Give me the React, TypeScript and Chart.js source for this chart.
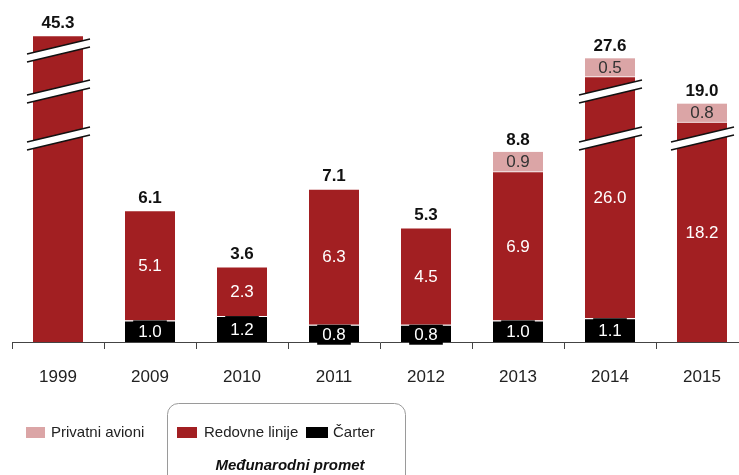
import React, { useEffect, useRef } from "react";
import { Chart, registerables } from "chart.js";

Chart.register(...registerables);

// ---- data ----
const years = ["1999", "2009", "2010", "2011", "2012", "2013", "2014", "2015"];
const charter = [0, 1.0, 1.2, 0.8, 0.8, 1.0, 1.1, 0];
const scheduled = [45.3, 5.1, 2.3, 6.3, 4.5, 6.9, 26.0, 18.2];
// height actually drawn for bars cut by the axis break (null = drawn at full value)
const scheduledShown = [14.2, null, null, null, null, null, 11.2, 10.2];
const privateJets = [0, 0, 0, 0, 0, 0.9, 0.5, 0.8];
const totals = [45.3, 6.1, 3.6, 7.1, 5.3, 8.8, 27.6, 19.0];
const showScheduledLabel = [false, true, true, true, true, true, true, true];
// axis-break marks: how many per bar, and at which (drawn) levels
const breakCount = [3, 0, 0, 0, 0, 0, 2, 1];
const breakLevels = [9.42, 11.6, 13.5];

const RED = "#a21f22";
const PINK = "#dba5a6";
const BLACK = "#000000";
const FONT = "'Liberation Sans', Arial, sans-serif";

const fmt = (v: number) => v.toFixed(1);

const overlayPlugin = {
  id: "overlay",
  afterDatasetsDraw(chart: any) {
    const ctx = chart.ctx;
    const yScale = chart.scales.y;
    const mC = chart.getDatasetMeta(0);
    const mR = chart.getDatasetMeta(1);
    const mP = chart.getDatasetMeta(2);
    ctx.save();

    // break marks
    years.forEach((_, i) => {
      const bar = mR.data[i];
      const left = bar.x - bar.width / 2;
      const right = bar.x + bar.width / 2;
      for (let k = 0; k < breakCount[i]; k++) {
        const c = yScale.getPixelForValue(breakLevels[k]);
        const xl = left - 6;
        const xr = right + 7;
        ctx.beginPath();
        ctx.moveTo(xl, c + 7.5 - 4);
        ctx.lineTo(xr, c - 7.5 - 4);
        ctx.lineTo(xr, c - 7.5 + 4);
        ctx.lineTo(xl, c + 7.5 + 4);
        ctx.closePath();
        ctx.fillStyle = "#ffffff";
        ctx.fill();
        ctx.strokeStyle = "#111";
        ctx.lineWidth = 1.5;
        ctx.beginPath();
        ctx.moveTo(xl, c + 7.5 - 4);
        ctx.lineTo(xr, c - 7.5 - 4);
        ctx.moveTo(xl, c + 7.5 + 4);
        ctx.lineTo(xr, c - 7.5 + 4);
        ctx.stroke();
      }
    });

    ctx.textAlign = "center";
    ctx.textBaseline = "middle";

    years.forEach((_, i) => {
      let top = mR.data[i].y;
      // charter labels (box anchored at segment top)
      if (charter[i] > 0) {
        const b = mC.data[i];
        const h = Math.max(b.base - b.y, 20);
        ctx.font = `17px ${FONT}`;
        const t = fmt(charter[i]);
        const w = Math.min(b.width, ctx.measureText(t).width + 10);
        ctx.fillStyle = BLACK;
        ctx.fillRect(b.x - w / 2, b.y, w, h);
        ctx.fillStyle = "#ffffff";
        ctx.fillText(t, b.x, b.y + h / 2 + 1);
      }
      // scheduled labels
      if (showScheduledLabel[i]) {
        const b = mR.data[i];
        ctx.font = `17px ${FONT}`;
        ctx.fillStyle = "#ffffff";
        ctx.fillText(fmt(scheduled[i]), b.x, (b.y + b.base) / 2 + 1);
      }
      // private labels (box anchored at segment bottom)
      if (privateJets[i] > 0) {
        const b = mP.data[i];
        const h = Math.max(b.base - b.y, 18);
        const w = b.width;
        ctx.fillStyle = PINK;
        ctx.fillRect(b.x - w / 2, b.base - h, w, h);
        ctx.font = `17px ${FONT}`;
        ctx.fillStyle = "#333";
        ctx.fillText(fmt(privateJets[i]), b.x, b.base - h / 2 + 1);
        top = Math.min(top, b.base - h);
      }
      // totals
      ctx.font = `bold 17px ${FONT}`;
      ctx.fillStyle = "#111";
      ctx.fillText(fmt(totals[i]), mR.data[i].x, top - 12);
    });
    ctx.restore();
  },
  afterDraw(chart: any) {
    const ctx = chart.ctx;
    ctx.save();
    ctx.textBaseline = "middle";
    ctx.textAlign = "left";
    ctx.font = `15px ${FONT}`;
    // outside box
    ctx.fillStyle = PINK;
    ctx.fillRect(26, 427, 19, 11);
    ctx.fillStyle = "#222";
    ctx.fillText("Privatni avioni", 51, 433);
    // rounded box
    ctx.strokeStyle = "#9a9a9a";
    ctx.lineWidth = 1;
    ctx.beginPath();
    (ctx as any).roundRect(167.5, 403.5, 238, 90, 11);
    ctx.stroke();
    ctx.fillStyle = RED;
    ctx.fillRect(177, 427, 20, 11);
    ctx.fillStyle = "#222";
    ctx.fillText("Redovne linije", 204, 433);
    ctx.fillStyle = BLACK;
    ctx.fillRect(306, 427, 22, 11);
    ctx.fillStyle = "#222";
    ctx.fillText("Čarter", 333, 433);
    ctx.textAlign = "center";
    ctx.font = `italic bold 15px ${FONT}`;
    ctx.fillStyle = "#111";
    ctx.fillText("Međunarodni promet", 290, 466);
    ctx.restore();
  },
};

export default function App() {
  const ref = useRef<HTMLCanvasElement | null>(null);

  useEffect(() => {
    if (!ref.current) return;
    const chart = new Chart(ref.current, {
      type: "bar",
      data: {
        labels: years,
        datasets: [
          {
            label: "Čarter",
            data: charter,
            backgroundColor: BLACK,
            borderColor: "#ffffff",
            borderWidth: { top: 1, left: 0, right: 0, bottom: 0 },
            borderSkipped: false,
          },
          {
            label: "Redovne linije",
            data: scheduled.map((v, i) => scheduledShown[i] ?? v),
            backgroundColor: RED,
            borderColor: "#ffffff",
            borderWidth: { top: 1, left: 0, right: 0, bottom: 0 },
            borderSkipped: false,
          },
          {
            label: "Privatni avioni",
            data: privateJets,
            backgroundColor: PINK,
            borderWidth: 0,
          },
        ],
      },
      options: {
        responsive: false,
        devicePixelRatio: 1,
        animation: false,
        layout: { padding: { left: 12, right: 12, top: 18, bottom: 0 } },
        datasets: { bar: { categoryPercentage: 1, barPercentage: 50 / 92 } },
        plugins: {
          legend: { display: false },
          tooltip: { enabled: false },
        },
        scales: {
          x: {
            stacked: true,
            grid: {
              display: true,
              drawOnChartArea: false,
              drawTicks: true,
              tickLength: 7,
              color: "#444",
              offset: true,
            },
            border: { display: true, color: "#444", width: 1 },
            ticks: {
              color: "#222",
              padding: 18,
              font: { family: FONT, size: 17 },
              maxRotation: 0,
            },
            afterFit: (scale: any) => {
              scale.height = 133;
            },
          },
          y: {
            stacked: true,
            display: false,
            min: 0,
            max: 15,
          },
        },
      },
      plugins: [overlayPlugin],
    });
    return () => chart.destroy();
  }, []);

  return (
    <div
      style={{
        position: "absolute",
        left: 0,
        top: 0,
        width: 739,
        height: 475,
        overflow: "hidden",
        background: "#fff",
      }}
    >
      <canvas ref={ref} width={760} height={475} style={{ display: "block" }} />
    </div>
  );
}
